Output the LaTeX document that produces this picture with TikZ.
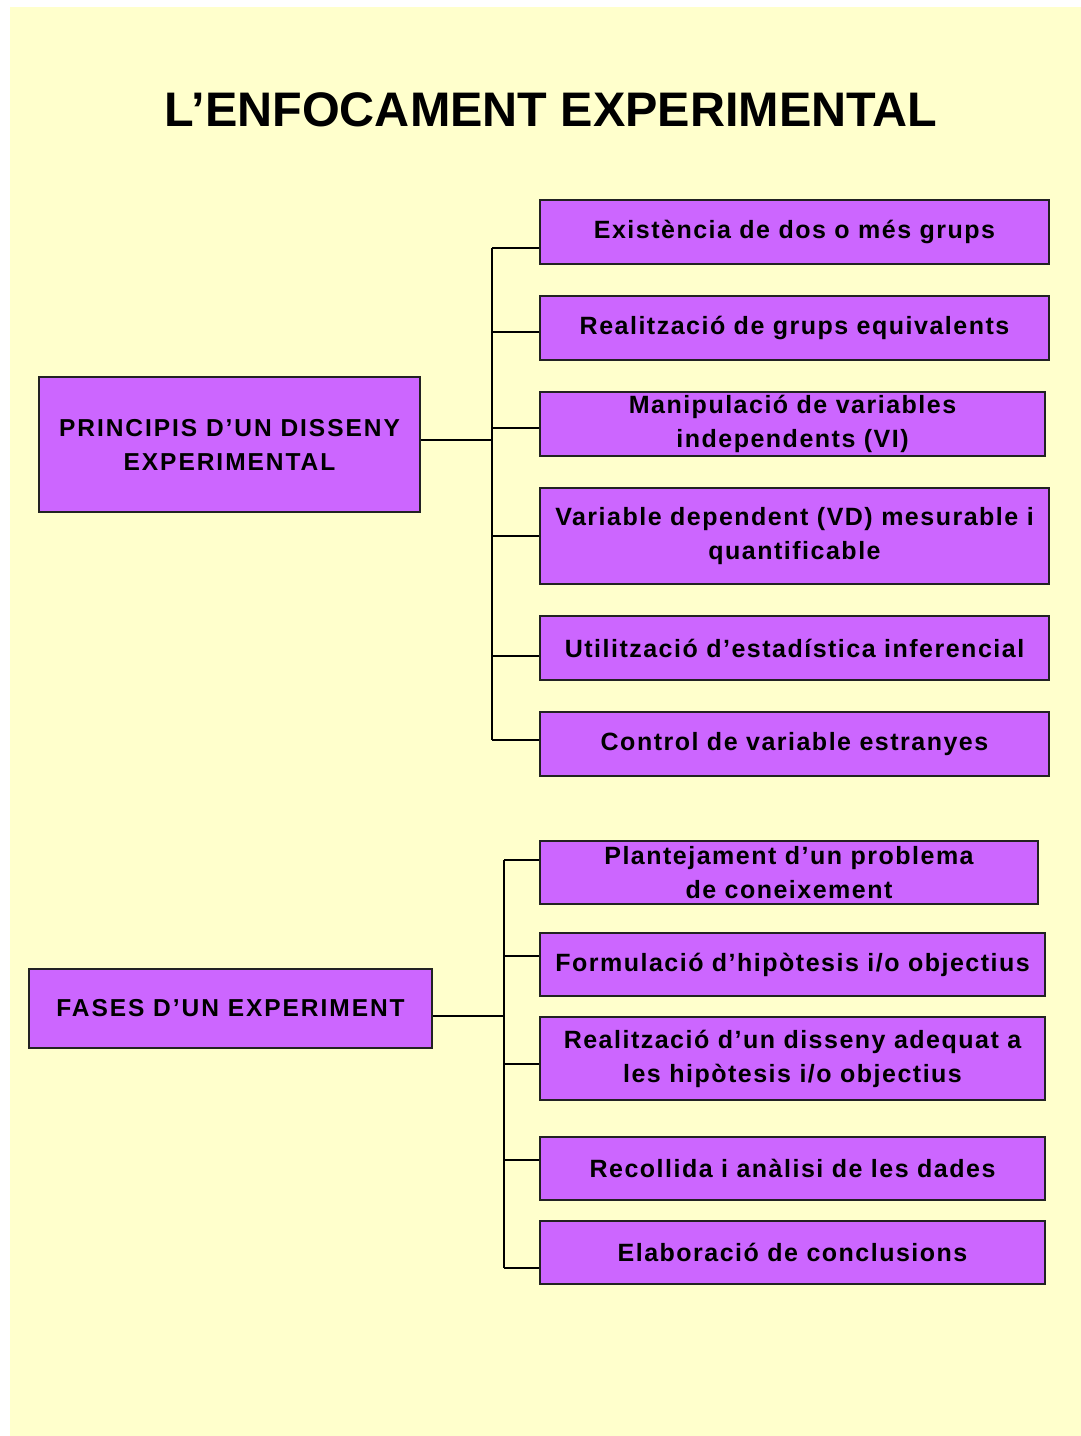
\documentclass[tikz,border=0pt]{standalone}
\usepackage{fontspec}
\setmainfont{Liberation Sans}
\newfontfamily\boxfont[LetterSpace=6]{Liberation Sans}
\newfontfamily\lboxfont[LetterSpace=8]{Liberation Sans}
\definecolor{bgyellow}{HTML}{FFFFCC}
\definecolor{boxpurple}{HTML}{CC66FF}
\definecolor{boxline}{HTML}{222222}
\begin{document}
\begin{tikzpicture}[x=1pt,y=-1pt,
  box/.style={draw=boxline, fill=boxpurple, line width=1.6pt, inner sep=0pt, align=center,
    font=\boxfont\bfseries\fontsize{25}{34}\selectfont},
  lbox/.style={box, font=\lboxfont\bfseries\fontsize{24.5}{34}\selectfont},
  conn/.style={draw=black, line width=1.6pt}]
\useasboundingbox (0,0) rectangle (1081,1436);
\fill[white] (0,0) rectangle (1081,1436);
\fill[bgyellow] (10,7) rectangle (1081,1436);
\node[font=\bfseries\fontsize{48.5}{56}\selectfont] (title) at (551,110) {L’ENFOCAMENT EXPERIMENTAL};
% left boxes
\node[lbox, minimum width=381pt, minimum height=135pt] (p) at (229.5,444.5) {PRINCIPIS D’UN DISSENY\\EXPERIMENTAL};
\node[lbox, minimum width=403pt, minimum height=79pt] (f) at (230.5,1008.5) {FASES D’UN EXPERIMENT};
% top right boxes
\node[box, minimum width=509pt, minimum height=64pt] (e1) at (794.5,232) {Existència de dos o més grups};
\node[box, minimum width=509pt, minimum height=64pt] (e2) at (794.5,328) {Realització de grups equivalents};
\node[box, minimum width=505pt, minimum height=64pt] (e3) at (792.5,424) {Manipulació de variables\\independents (VI)};
\node[box, minimum width=509pt, minimum height=96pt] (e4) at (794.5,536) {Variable dependent (VD) mesurable i\\quantificable};
\node[box, minimum width=509pt, minimum height=64pt] (e5) at (794.5,648) {Utilització d’estadística inferencial};
\node[box, minimum width=509pt, minimum height=64pt] (e6) at (794.5,744) {Control de variable estranyes};
% bottom right boxes
\node[box, minimum width=498pt, minimum height=63pt] (g1) at (789,872.5) {Plantejament d’un problema\\de coneixement};
\node[box, minimum width=505pt, minimum height=63pt] (g2) at (792.5,964.5) {Formulació d’hipòtesis i/o objectius};
\node[box, minimum width=505pt, minimum height=83pt] (g3) at (792.5,1058.5) {Realització d’un disseny adequat a\\les hipòtesis i/o objectius};
\node[box, minimum width=505pt, minimum height=63pt] (g4) at (792.5,1168.5) {Recollida i anàlisi de les dades};
\node[box, minimum width=505pt, minimum height=63pt] (g5) at (792.5,1252.5) {Elaboració de conclusions};
% top tree
\coordinate (ta) at (492,440);
\coordinate (t1) at (492,248);
\coordinate (t2) at (492,332);
\coordinate (t3) at (492,428);
\coordinate (t4) at (492,536);
\coordinate (t5) at (492,656);
\coordinate (t6) at (492,740);
\draw[conn] (p.east |- ta) -- (ta);
\draw[conn] (t1) -- (t6);
\draw[conn] (t1) -- (t1 -| e1.west);
\draw[conn] (t2) -- (t2 -| e2.west);
\draw[conn] (t3) -- (t3 -| e3.west);
\draw[conn] (t4) -- (t4 -| e4.west);
\draw[conn] (t5) -- (t5 -| e5.west);
\draw[conn] (t6) -- (t6 -| e6.west);
% bottom tree
\coordinate (ua) at (504,1016);
\coordinate (u1) at (504,860);
\coordinate (u2) at (504,956);
\coordinate (u3) at (504,1064);
\coordinate (u4) at (504,1160);
\coordinate (u5) at (504,1268);
\draw[conn] (f.east |- ua) -- (ua);
\draw[conn] (u1) -- (u5);
\draw[conn] (u1) -- (u1 -| g1.west);
\draw[conn] (u2) -- (u2 -| g2.west);
\draw[conn] (u3) -- (u3 -| g3.west);
\draw[conn] (u4) -- (u4 -| g4.west);
\draw[conn] (u5) -- (u5 -| g5.west);
\end{tikzpicture}
\end{document}
